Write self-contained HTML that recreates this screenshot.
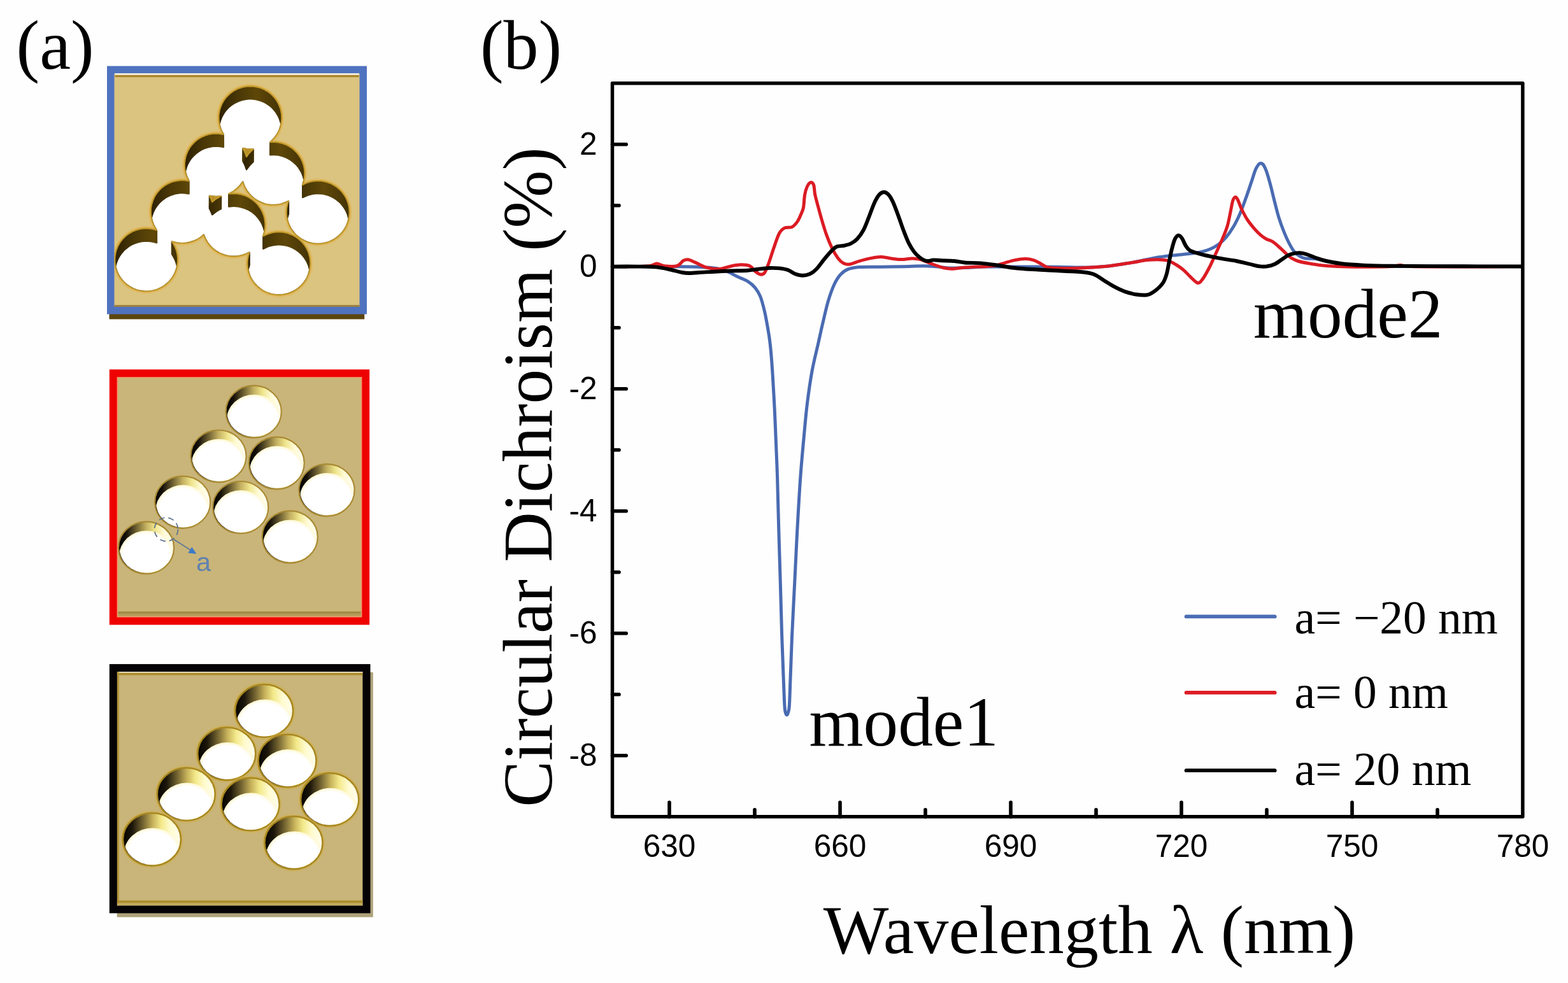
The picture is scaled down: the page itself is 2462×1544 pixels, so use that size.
<!DOCTYPE html>
<html lang="en"><head><meta charset="utf-8"><title>Circular Dichroism figure</title>
<style>html,body{margin:0;padding:0;background:#fefefe}svg{display:block}.se{font-family:"Liberation Serif","Times New Roman",serif;fill:#000}.sa{font-family:"Liberation Sans",Arial,sans-serif;fill:#000}</style></head><body>
<svg width="2462" height="1544" viewBox="0 0 2462 1544" role="img" aria-label="Hole-array schematics and circular dichroism spectra">
<defs>
<linearGradient id="g2" x1="0" y1="0" x2="1" y2="0"><stop offset="0" stop-color="#000"/><stop offset="0.14" stop-color="#15110a"/><stop offset="0.32" stop-color="#6d5f30"/><stop offset="0.5" stop-color="#c4b060"/><stop offset="0.66" stop-color="#efe58c"/><stop offset="0.82" stop-color="#fffbd8"/><stop offset="1" stop-color="#fffef4"/></linearGradient>
<linearGradient id="g3" x1="0" y1="0" x2="1" y2="0"><stop offset="0" stop-color="#050402"/><stop offset="0.16" stop-color="#1c160a"/><stop offset="0.36" stop-color="#7a6a34"/><stop offset="0.52" stop-color="#c9b45c"/><stop offset="0.66" stop-color="#f3e98a"/><stop offset="0.82" stop-color="#fffbd0"/><stop offset="1" stop-color="#fffef0"/></linearGradient>
<linearGradient id="g1" x1="0" y1="0" x2="1" y2="0"><stop offset="0" stop-color="#2c2004"/><stop offset="0.3" stop-color="#493706"/><stop offset="0.6" stop-color="#5e4708"/><stop offset="1" stop-color="#433206"/></linearGradient>
<radialGradient id="w" cx="0.5" cy="0.5" r="0.5"><stop offset="0" stop-color="#fff"/><stop offset="0.86" stop-color="#fff"/><stop offset="1" stop-color="#fff8d2"/></radialGradient>
</defs>
<rect width="2462" height="1544" fill="#fefefe"/>
<g id="panel-blue">
<rect x="171.5" y="488" width="400.7" height="13.4" fill="#5b450f"/>
<rect x="168" y="103.7" width="408" height="389.8" fill="#5073c0"/>
<rect x="179.5" y="115.2" width="385.0" height="366.8" fill="#dbc480"/>
<rect x="180.5" y="115.2" width="383.0" height="2.6" fill="#fbf7ea"/>
<rect x="180.5" y="117.8" width="383.0" height="3.4" fill="#a9862c"/>
<rect x="179.5" y="479.0" width="385.0" height="3" fill="#9c8140"/>
<clipPath id="cp1"><rect x="179.5" y="115.2" width="385.0" height="366.8"/></clipPath>
<g clip-path="url(#cp1)">
<path d="M442.2,180.0L441.1,173.7L440.3,170.5L438.6,166.0L435.8,160.2L433.1,156.1L431.2,153.5L426.7,148.8L424.3,146.6L420.4,143.7L414.8,140.5L408.8,138.0L402.6,136.4L397.8,135.6L394.5,135.4L388.0,135.6L383.2,136.4L380.1,137.1L375.5,138.6L372.5,139.8L366.8,142.9L361.5,146.6L356.8,151.1L353.6,154.8L351.7,157.4L349.2,161.6L347.8,164.5L346.6,167.5L345.1,172.1L344.1,176.8L343.6,180.0L343.4,183.3L343.5,188.1L344.1,193.0L344.7,196.1L345.5,199.3L347.2,203.8L349.2,208.2L350.9,211.1L345.8,210.1L339.3,209.7L334.4,209.9L328.1,211.0L321.9,212.9L316.0,215.5L311.8,218.0L306.7,222.0L303.2,225.4L301.0,227.8L298.1,231.7L295.6,235.9L293.6,240.3L292.4,243.3L291.5,246.4L290.5,251.1L289.9,256.0L289.8,260.8L290.2,265.7L290.8,268.9L291.9,273.6L293.0,276.6L294.9,281.1L296.6,284.2L289.4,283.2L284.6,283.1L281.3,283.3L278.1,283.8L273.4,284.8L268.8,286.3L265.8,287.5L261.4,289.7L258.7,291.4L254.8,294.3L252.4,296.5L250.1,298.8L246.9,302.5L245.0,305.1L242.5,309.3L239.9,315.2L238.0,321.4L237.1,326.1L236.8,329.4L236.8,335.8L237.7,342.3L238.4,345.4L239.9,350.0L242.5,355.9L246.0,361.5L242.5,360.4L237.8,359.4L232.9,358.8L229.7,358.7L226.5,358.8L221.6,359.4L216.9,360.4L212.3,361.9L207.8,363.8L203.6,366.2L200.9,368.0L197.1,371.0L193.6,374.4L190.4,378.1L188.5,380.7L186.0,384.9L184.6,387.8L182.8,392.3L181.5,397.0L180.9,400.1L180.3,405.0L180.2,408.2L180.3,411.4L180.9,416.3L181.9,421.0L182.8,424.1L184.6,428.6L186.0,431.5L188.5,435.7L190.4,438.3L192.5,440.8L195.9,444.3L199.6,447.5L202.2,449.4L206.4,451.9L209.3,453.3L212.3,454.5L216.9,456.0L221.6,457.0L224.8,457.5L228.1,457.7L232.9,457.6L237.8,457.0L240.9,456.4L244.1,455.6L248.6,453.9L251.6,452.6L255.8,450.2L259.8,447.5L263.5,444.3L266.9,440.8L269.9,437.0L272.6,432.9L274.8,428.6L277.1,422.6L278.2,417.9L279.1,411.4L279.2,406.6L278.8,401.7L277.9,397.0L276.6,392.3L274.8,387.8L272.6,383.4L269.9,379.3L276.5,381.1L283.0,382.0L289.4,382.0L295.9,381.1L302.1,379.5L308.1,377.0L313.7,373.8L316.3,371.9L320.0,368.8L321.9,373.8L324.1,378.1L327.7,383.5L330.9,387.2L334.4,390.6L339.5,394.6L343.7,397.1L349.6,399.7L354.2,401.2L358.9,402.2L363.8,402.8L370.2,402.8L375.1,402.2L381.4,400.8L385.9,399.1L391.6,396.4L390.1,401.0L389.1,405.7L388.5,410.6L388.4,415.4L388.8,420.3L389.7,425.0L390.5,428.2L392.2,432.7L394.2,437.1L396.7,441.3L399.6,445.2L401.8,447.6L405.3,451.0L409.1,454.0L411.8,455.8L416.0,458.2L420.5,460.1L423.5,461.2L429.8,462.6L434.7,463.2L437.9,463.3L441.1,463.2L446.0,462.6L449.1,462.0L453.8,460.7L458.3,458.9L461.2,457.5L464.0,455.8L468.0,453.1L471.7,449.9L474.0,447.6L476.2,445.2L479.1,441.3L481.6,437.1L483.6,432.7L485.3,428.2L486.1,425.0L487.0,420.3L487.4,415.4L487.3,410.6L486.7,405.7L486.1,402.6L484.8,397.9L483.0,393.4L480.8,389.1L478.1,385.0L476.2,382.4L474.0,380.0L470.5,376.6L466.7,373.6L464.0,371.8L459.8,369.4L456.8,368.1L452.3,366.4L447.6,365.3L444.4,364.7L439.5,364.3L434.7,364.4L429.8,365.0L426.7,365.6L422.0,366.9L417.5,368.7L413.3,370.8L415.2,364.6L416.3,358.3L416.5,351.8L415.8,345.3L414.4,339.0L412.1,333.0L409.0,327.3L405.3,322.0L400.8,317.3L395.8,313.2L390.3,309.7L384.4,307.1L378.2,305.2L371.9,304.1L365.4,303.9L359.2,304.5L365.4,301.2L369.4,298.5L371.9,296.4L376.5,291.8L378.6,289.3L381.2,285.5L383.3,291.4L385.3,295.8L387.8,300.0L391.8,305.1L396.4,309.7L400.2,312.7L405.7,316.2L410.1,318.2L414.6,319.9L420.9,321.3L425.8,321.9L432.2,321.9L437.1,321.3L443.4,319.9L447.9,318.2L453.0,315.8L451.4,320.7L450.4,325.4L449.8,330.3L449.7,335.1L450.1,340.0L451.0,344.7L452.9,350.9L454.8,355.4L457.2,359.6L459.9,363.6L463.1,367.3L466.6,370.7L470.4,373.7L475.9,377.2L480.3,379.2L484.8,380.9L488.0,381.7L492.7,382.6L496.0,382.9L500.8,383.0L505.7,382.6L508.9,382.0L513.6,380.9L516.6,379.8L522.5,377.2L525.3,375.5L529.3,372.8L531.8,370.7L535.3,367.3L537.5,364.9L540.4,361.0L542.9,356.8L544.3,353.9L546.6,347.9L547.4,344.7L548.3,340.0L548.7,335.1L548.7,331.9L548.3,327.0L547.7,323.8L546.6,319.1L545.5,316.1L544.3,313.1L542.1,308.8L539.4,304.7L537.5,302.1L534.2,298.5L531.8,296.3L529.3,294.2L525.3,291.5L521.1,289.1L518.1,287.8L513.6,286.1L508.9,285.0L505.7,284.4L500.8,284.0L496.0,284.1L491.1,284.7L488.0,285.3L483.3,286.6L478.8,288.4L475.2,290.2L476.8,285.3L478.1,279.0L478.5,272.5L478.1,266.0L476.8,259.7L474.7,253.6L471.9,247.8L468.3,242.4L465.1,238.7L460.4,234.2L455.1,230.5L449.4,227.4L443.4,225.1L437.1,223.7L430.6,223.0L424.2,223.2L427.9,219.9L432.2,215.0L435.8,209.7L438.6,203.8L440.3,199.3L441.7,193.0L442.4,186.5ZM333.2,317.2L331.3,312.2L328.9,307.6L332.8,308.3L337.7,308.7L342.5,308.6L347.1,308.1L343.7,309.7L339.5,312.2L336.9,314.1ZM386.2,243.3L383.7,237.3L381.3,233.0L384.8,233.7L389.7,234.3L392.9,234.4L397.7,234.2L395.2,236.4L391.8,239.9L389.7,242.4L387.1,246.2Z" fill="none" stroke="#e3b24a" stroke-width="7" stroke-opacity="0.55" stroke-linejoin="round"/>
<clipPath id="cu"><path d="M442.2,180.0L441.1,173.7L440.3,170.5L438.6,166.0L435.8,160.2L433.1,156.1L431.2,153.5L426.7,148.8L424.3,146.6L420.4,143.7L414.8,140.5L408.8,138.0L402.6,136.4L397.8,135.6L394.5,135.4L388.0,135.6L383.2,136.4L380.1,137.1L375.5,138.6L372.5,139.8L366.8,142.9L361.5,146.6L356.8,151.1L353.6,154.8L351.7,157.4L349.2,161.6L347.8,164.5L346.6,167.5L345.1,172.1L344.1,176.8L343.6,180.0L343.4,183.3L343.5,188.1L344.1,193.0L344.7,196.1L345.5,199.3L347.2,203.8L349.2,208.2L350.9,211.1L345.8,210.1L339.3,209.7L334.4,209.9L328.1,211.0L321.9,212.9L316.0,215.5L311.8,218.0L306.7,222.0L303.2,225.4L301.0,227.8L298.1,231.7L295.6,235.9L293.6,240.3L292.4,243.3L291.5,246.4L290.5,251.1L289.9,256.0L289.8,260.8L290.2,265.7L290.8,268.9L291.9,273.6L293.0,276.6L294.9,281.1L296.6,284.2L289.4,283.2L284.6,283.1L281.3,283.3L278.1,283.8L273.4,284.8L268.8,286.3L265.8,287.5L261.4,289.7L258.7,291.4L254.8,294.3L252.4,296.5L250.1,298.8L246.9,302.5L245.0,305.1L242.5,309.3L239.9,315.2L238.0,321.4L237.1,326.1L236.8,329.4L236.8,335.8L237.7,342.3L238.4,345.4L239.9,350.0L242.5,355.9L246.0,361.5L242.5,360.4L237.8,359.4L232.9,358.8L229.7,358.7L226.5,358.8L221.6,359.4L216.9,360.4L212.3,361.9L207.8,363.8L203.6,366.2L200.9,368.0L197.1,371.0L193.6,374.4L190.4,378.1L188.5,380.7L186.0,384.9L184.6,387.8L182.8,392.3L181.5,397.0L180.9,400.1L180.3,405.0L180.2,408.2L180.3,411.4L180.9,416.3L181.9,421.0L182.8,424.1L184.6,428.6L186.0,431.5L188.5,435.7L190.4,438.3L192.5,440.8L195.9,444.3L199.6,447.5L202.2,449.4L206.4,451.9L209.3,453.3L212.3,454.5L216.9,456.0L221.6,457.0L224.8,457.5L228.1,457.7L232.9,457.6L237.8,457.0L240.9,456.4L244.1,455.6L248.6,453.9L251.6,452.6L255.8,450.2L259.8,447.5L263.5,444.3L266.9,440.8L269.9,437.0L272.6,432.9L274.8,428.6L277.1,422.6L278.2,417.9L279.1,411.4L279.2,406.6L278.8,401.7L277.9,397.0L276.6,392.3L274.8,387.8L272.6,383.4L269.9,379.3L276.5,381.1L283.0,382.0L289.4,382.0L295.9,381.1L302.1,379.5L308.1,377.0L313.7,373.8L316.3,371.9L320.0,368.8L321.9,373.8L324.1,378.1L327.7,383.5L330.9,387.2L334.4,390.6L339.5,394.6L343.7,397.1L349.6,399.7L354.2,401.2L358.9,402.2L363.8,402.8L370.2,402.8L375.1,402.2L381.4,400.8L385.9,399.1L391.6,396.4L390.1,401.0L389.1,405.7L388.5,410.6L388.4,415.4L388.8,420.3L389.7,425.0L390.5,428.2L392.2,432.7L394.2,437.1L396.7,441.3L399.6,445.2L401.8,447.6L405.3,451.0L409.1,454.0L411.8,455.8L416.0,458.2L420.5,460.1L423.5,461.2L429.8,462.6L434.7,463.2L437.9,463.3L441.1,463.2L446.0,462.6L449.1,462.0L453.8,460.7L458.3,458.9L461.2,457.5L464.0,455.8L468.0,453.1L471.7,449.9L474.0,447.6L476.2,445.2L479.1,441.3L481.6,437.1L483.6,432.7L485.3,428.2L486.1,425.0L487.0,420.3L487.4,415.4L487.3,410.6L486.7,405.7L486.1,402.6L484.8,397.9L483.0,393.4L480.8,389.1L478.1,385.0L476.2,382.4L474.0,380.0L470.5,376.6L466.7,373.6L464.0,371.8L459.8,369.4L456.8,368.1L452.3,366.4L447.6,365.3L444.4,364.7L439.5,364.3L434.7,364.4L429.8,365.0L426.7,365.6L422.0,366.9L417.5,368.7L413.3,370.8L415.2,364.6L416.3,358.3L416.5,351.8L415.8,345.3L414.4,339.0L412.1,333.0L409.0,327.3L405.3,322.0L400.8,317.3L395.8,313.2L390.3,309.7L384.4,307.1L378.2,305.2L371.9,304.1L365.4,303.9L359.2,304.5L365.4,301.2L369.4,298.5L371.9,296.4L376.5,291.8L378.6,289.3L381.2,285.5L383.3,291.4L385.3,295.8L387.8,300.0L391.8,305.1L396.4,309.7L400.2,312.7L405.7,316.2L410.1,318.2L414.6,319.9L420.9,321.3L425.8,321.9L432.2,321.9L437.1,321.3L443.4,319.9L447.9,318.2L453.0,315.8L451.4,320.7L450.4,325.4L449.8,330.3L449.7,335.1L450.1,340.0L451.0,344.7L452.9,350.9L454.8,355.4L457.2,359.6L459.9,363.6L463.1,367.3L466.6,370.7L470.4,373.7L475.9,377.2L480.3,379.2L484.8,380.9L488.0,381.7L492.7,382.6L496.0,382.9L500.8,383.0L505.7,382.6L508.9,382.0L513.6,380.9L516.6,379.8L522.5,377.2L525.3,375.5L529.3,372.8L531.8,370.7L535.3,367.3L537.5,364.9L540.4,361.0L542.9,356.8L544.3,353.9L546.6,347.9L547.4,344.7L548.3,340.0L548.7,335.1L548.7,331.9L548.3,327.0L547.7,323.8L546.6,319.1L545.5,316.1L544.3,313.1L542.1,308.8L539.4,304.7L537.5,302.1L534.2,298.5L531.8,296.3L529.3,294.2L525.3,291.5L521.1,289.1L518.1,287.8L513.6,286.1L508.9,285.0L505.7,284.4L500.8,284.0L496.0,284.1L491.1,284.7L488.0,285.3L483.3,286.6L478.8,288.4L475.2,290.2L476.8,285.3L478.1,279.0L478.5,272.5L478.1,266.0L476.8,259.7L474.7,253.6L471.9,247.8L468.3,242.4L465.1,238.7L460.4,234.2L455.1,230.5L449.4,227.4L443.4,225.1L437.1,223.7L430.6,223.0L424.2,223.2L427.9,219.9L432.2,215.0L435.8,209.7L438.6,203.8L440.3,199.3L441.7,193.0L442.4,186.5ZM333.2,317.2L331.3,312.2L328.9,307.6L332.8,308.3L337.7,308.7L342.5,308.6L347.1,308.1L343.7,309.7L339.5,312.2L336.9,314.1ZM386.2,243.3L383.7,237.3L381.3,233.0L384.8,233.7L389.7,234.3L392.9,234.4L397.7,234.2L395.2,236.4L391.8,239.9L389.7,242.4L387.1,246.2Z" clip-rule="evenodd"/></clipPath>
<g clip-path="url(#cu)">
<circle cx="392.9" cy="184.9" r="50.0" fill="url(#g1)"/>
<circle cx="339.3" cy="259.2" r="50.0" fill="url(#g1)"/>
<circle cx="429" cy="272.5" r="50.0" fill="url(#g1)"/>
<circle cx="286.2" cy="332.6" r="50.0" fill="url(#g1)"/>
<circle cx="367" cy="353.4" r="50.0" fill="url(#g1)"/>
<circle cx="499.2" cy="333.5" r="50.0" fill="url(#g1)"/>
<circle cx="229.7" cy="408.2" r="50.0" fill="url(#g1)"/>
<circle cx="437.9" cy="413.8" r="50.0" fill="url(#g1)"/>
</g>
<path d="M333.2,317.2L331.3,312.2L328.9,307.6L332.8,308.3L337.7,308.7L342.5,308.6L347.1,308.1L343.7,309.7L339.5,312.2L336.9,314.1Z" fill="#b8902a"/>
<path d="M386.2,243.3L383.7,237.3L381.3,233.0L384.8,233.7L389.7,234.3L392.9,234.4L397.7,234.2L395.2,236.4L391.8,239.9L389.7,242.4L387.1,246.2Z" fill="#b8902a"/>
<path d="M442.2,180.0L441.1,173.7L440.3,170.5L438.6,166.0L435.8,160.2L433.1,156.1L431.2,153.5L426.7,148.8L424.3,146.6L420.4,143.7L414.8,140.5L408.8,138.0L402.6,136.4L397.8,135.6L394.5,135.4L388.0,135.6L383.2,136.4L380.1,137.1L375.5,138.6L372.5,139.8L366.8,142.9L361.5,146.6L356.8,151.1L353.6,154.8L351.7,157.4L349.2,161.6L347.8,164.5L346.6,167.5L345.1,172.1L344.1,176.8L343.6,180.0L343.4,183.3L343.5,188.1L344.1,193.0L344.7,196.1L345.5,199.3L347.2,203.8L349.2,208.2L350.9,211.1L345.8,210.1L339.3,209.7L334.4,209.9L328.1,211.0L321.9,212.9L316.0,215.5L311.8,218.0L306.7,222.0L303.2,225.4L301.0,227.8L298.1,231.7L295.6,235.9L293.6,240.3L292.4,243.3L291.5,246.4L290.5,251.1L289.9,256.0L289.8,260.8L290.2,265.7L290.8,268.9L291.9,273.6L293.0,276.6L294.9,281.1L296.6,284.2L289.4,283.2L284.6,283.1L281.3,283.3L278.1,283.8L273.4,284.8L268.8,286.3L265.8,287.5L261.4,289.7L258.7,291.4L254.8,294.3L252.4,296.5L250.1,298.8L246.9,302.5L245.0,305.1L242.5,309.3L239.9,315.2L238.0,321.4L237.1,326.1L236.8,329.4L236.8,335.8L237.7,342.3L238.4,345.4L239.9,350.0L242.5,355.9L246.0,361.5L242.5,360.4L237.8,359.4L232.9,358.8L229.7,358.7L226.5,358.8L221.6,359.4L216.9,360.4L212.3,361.9L207.8,363.8L203.6,366.2L200.9,368.0L197.1,371.0L193.6,374.4L190.4,378.1L188.5,380.7L186.0,384.9L184.6,387.8L182.8,392.3L181.5,397.0L180.9,400.1L180.3,405.0L180.2,408.2L180.3,411.4L180.9,416.3L181.9,421.0L182.8,424.1L184.6,428.6L186.0,431.5L188.5,435.7L190.4,438.3L192.5,440.8L195.9,444.3L199.6,447.5L202.2,449.4L206.4,451.9L209.3,453.3L212.3,454.5L216.9,456.0L221.6,457.0L224.8,457.5L228.1,457.7L232.9,457.6L237.8,457.0L240.9,456.4L244.1,455.6L248.6,453.9L251.6,452.6L255.8,450.2L259.8,447.5L263.5,444.3L266.9,440.8L269.9,437.0L272.6,432.9L274.8,428.6L277.1,422.6L278.2,417.9L279.1,411.4L279.2,406.6L278.8,401.7L277.9,397.0L276.6,392.3L274.8,387.8L272.6,383.4L269.9,379.3L276.5,381.1L283.0,382.0L289.4,382.0L295.9,381.1L302.1,379.5L308.1,377.0L313.7,373.8L316.3,371.9L320.0,368.8L321.9,373.8L324.1,378.1L327.7,383.5L330.9,387.2L334.4,390.6L339.5,394.6L343.7,397.1L349.6,399.7L354.2,401.2L358.9,402.2L363.8,402.8L370.2,402.8L375.1,402.2L381.4,400.8L385.9,399.1L391.6,396.4L390.1,401.0L389.1,405.7L388.5,410.6L388.4,415.4L388.8,420.3L389.7,425.0L390.5,428.2L392.2,432.7L394.2,437.1L396.7,441.3L399.6,445.2L401.8,447.6L405.3,451.0L409.1,454.0L411.8,455.8L416.0,458.2L420.5,460.1L423.5,461.2L429.8,462.6L434.7,463.2L437.9,463.3L441.1,463.2L446.0,462.6L449.1,462.0L453.8,460.7L458.3,458.9L461.2,457.5L464.0,455.8L468.0,453.1L471.7,449.9L474.0,447.6L476.2,445.2L479.1,441.3L481.6,437.1L483.6,432.7L485.3,428.2L486.1,425.0L487.0,420.3L487.4,415.4L487.3,410.6L486.7,405.7L486.1,402.6L484.8,397.9L483.0,393.4L480.8,389.1L478.1,385.0L476.2,382.4L474.0,380.0L470.5,376.6L466.7,373.6L464.0,371.8L459.8,369.4L456.8,368.1L452.3,366.4L447.6,365.3L444.4,364.7L439.5,364.3L434.7,364.4L429.8,365.0L426.7,365.6L422.0,366.9L417.5,368.7L413.3,370.8L415.2,364.6L416.3,358.3L416.5,351.8L415.8,345.3L414.4,339.0L412.1,333.0L409.0,327.3L405.3,322.0L400.8,317.3L395.8,313.2L390.3,309.7L384.4,307.1L378.2,305.2L371.9,304.1L365.4,303.9L359.2,304.5L365.4,301.2L369.4,298.5L371.9,296.4L376.5,291.8L378.6,289.3L381.2,285.5L383.3,291.4L385.3,295.8L387.8,300.0L391.8,305.1L396.4,309.7L400.2,312.7L405.7,316.2L410.1,318.2L414.6,319.9L420.9,321.3L425.8,321.9L432.2,321.9L437.1,321.3L443.4,319.9L447.9,318.2L453.0,315.8L451.4,320.7L450.4,325.4L449.8,330.3L449.7,335.1L450.1,340.0L451.0,344.7L452.9,350.9L454.8,355.4L457.2,359.6L459.9,363.6L463.1,367.3L466.6,370.7L470.4,373.7L475.9,377.2L480.3,379.2L484.8,380.9L488.0,381.7L492.7,382.6L496.0,382.9L500.8,383.0L505.7,382.6L508.9,382.0L513.6,380.9L516.6,379.8L522.5,377.2L525.3,375.5L529.3,372.8L531.8,370.7L535.3,367.3L537.5,364.9L540.4,361.0L542.9,356.8L544.3,353.9L546.6,347.9L547.4,344.7L548.3,340.0L548.7,335.1L548.7,331.9L548.3,327.0L547.7,323.8L546.6,319.1L545.5,316.1L544.3,313.1L542.1,308.8L539.4,304.7L537.5,302.1L534.2,298.5L531.8,296.3L529.3,294.2L525.3,291.5L521.1,289.1L518.1,287.8L513.6,286.1L508.9,285.0L505.7,284.4L500.8,284.0L496.0,284.1L491.1,284.7L488.0,285.3L483.3,286.6L478.8,288.4L475.2,290.2L476.8,285.3L478.1,279.0L478.5,272.5L478.1,266.0L476.8,259.7L474.7,253.6L471.9,247.8L468.3,242.4L465.1,238.7L460.4,234.2L455.1,230.5L449.4,227.4L443.4,225.1L437.1,223.7L430.6,223.0L424.2,223.2L427.9,219.9L432.2,215.0L435.8,209.7L438.6,203.8L440.3,199.3L441.7,193.0L442.4,186.5ZM333.2,317.2L331.3,312.2L328.9,307.6L332.8,308.3L337.7,308.7L342.5,308.6L347.1,308.1L343.7,309.7L339.5,312.2L336.9,314.1ZM386.2,243.3L383.7,237.3L381.3,233.0L384.8,233.7L389.7,234.3L392.9,234.4L397.7,234.2L395.2,236.4L391.8,239.9L389.7,242.4L387.1,246.2Z" fill="none" stroke="#c39a2a" stroke-width="2.2" stroke-linejoin="round"/>
<path d="M352.0,210.6L352.1,231.1L351.6,232.0L350.7,232.3L347.2,231.5L342.5,231.0L337.7,230.9L334.6,231.1L328.3,232.2L325.3,233.0L320.8,234.6L316.5,236.6L313.8,238.2L309.9,240.9L307.5,242.9L304.0,246.2L302.0,248.6L300.0,251.1L297.5,255.1L295.3,259.3L294.1,262.2L292.1,269.2L294.1,276.2L297.8,284.0L297.8,304.3L297.5,305.0L296.6,305.4L289.4,304.4L284.6,304.3L281.5,304.5L275.2,305.6L272.2,306.4L267.7,308.0L263.4,310.0L260.7,311.6L255.6,315.3L252.0,318.4L249.9,320.8L247.9,323.2L245.2,327.1L243.6,329.8L241.6,334.1L240.0,338.6L239.0,342.6L240.5,348.1L242.2,352.5L244.4,356.7L247.1,361.2L247.2,381.5L246.9,382.3L245.8,382.6L242.2,381.5L237.6,380.5L232.9,380.0L229.7,379.9L226.5,380.0L221.8,380.5L218.7,381.2L214.2,382.5L209.8,384.2L206.9,385.6L202.9,388.0L199.1,390.9L195.5,394.0L193.4,396.4L191.4,398.8L188.7,402.7L187.1,405.4L185.1,409.7L183.5,414.2L182.7,417.2L182.5,418.2L184.0,423.7L185.1,426.7L187.1,431.0L189.5,435.0L191.4,437.6L194.4,441.2L196.7,443.5L200.3,446.5L204.2,449.2L209.8,452.2L214.2,453.9L217.2,454.9L223.4,456.1L228.1,456.5L231.3,456.5L237.6,455.9L240.7,455.2L245.2,453.9L251.1,451.5L253.8,450.0L257.8,447.5L261.5,444.5L265.0,441.2L268.0,437.6L269.9,435.0L272.3,431.0L274.3,426.7L275.9,422.2L276.9,418.2L275.4,412.7L273.7,408.3L271.5,404.1L268.8,399.6L268.7,379.3L269.0,378.6L269.4,378.3L270.1,378.2L276.8,380.0L279.9,380.5L284.6,380.9L290.9,380.7L297.2,379.6L303.2,377.8L309.0,375.2L314.3,371.9L319.2,367.8L319.9,367.6L320.6,367.8L321.0,368.2L323.7,374.8L326.8,380.2L329.7,384.0L332.8,387.6L336.4,390.7L340.2,393.6L345.6,396.7L350.0,398.6L354.5,400.1L359.1,401.1L363.8,401.6L370.2,401.6L374.9,401.1L379.5,400.1L385.5,398.0L391.2,395.2L391.9,395.2L392.4,395.5L392.8,396.3L392.8,416.4L390.7,423.8L392.7,430.8L393.9,433.7L396.1,437.9L398.6,441.9L401.6,445.6L404.9,449.1L407.3,451.1L411.1,454.0L415.1,456.4L419.4,458.4L422.4,459.5L425.4,460.5L430.0,461.5L434.7,462.0L437.9,462.1L444.2,461.7L448.9,460.8L451.9,460.0L457.8,457.8L462.0,455.6L464.7,454.0L467.3,452.1L470.9,449.1L474.2,445.6L476.2,443.2L479.7,437.9L481.2,435.2L483.1,430.8L485.1,423.8L483.1,416.8L480.5,411.0L477.2,405.7L473.2,400.8L470.9,398.5L467.3,395.5L463.4,392.8L459.3,390.5L454.9,388.6L451.9,387.6L448.9,386.8L444.2,385.9L439.5,385.5L436.3,385.5L431.6,385.9L428.5,386.4L423.9,387.6L420.9,388.6L413.7,392.0L412.7,391.9L412.1,390.9L412.1,370.8L414.2,363.4L412.7,357.9L410.3,352.0L408.0,347.9L404.3,342.8L400.0,338.1L395.1,334.1L389.8,330.8L384.0,328.2L378.0,326.4L373.3,325.5L367.0,325.1L359.1,325.7L358.1,325.1L358.0,324.6L358.1,304.0L358.6,303.5L362.1,301.8L366.1,299.4L371.1,295.5L375.6,291.0L377.6,288.6L380.3,284.7L380.9,284.3L381.7,284.4L382.2,284.8L384.4,291.0L386.4,295.3L388.8,299.3L392.7,304.3L397.2,308.8L400.9,311.8L406.2,315.1L410.5,317.1L416.5,319.2L421.1,320.2L425.8,320.7L432.2,320.7L436.9,320.2L441.5,319.2L447.5,317.1L452.6,314.7L453.2,314.6L453.8,314.9L454.2,315.8L454.2,335.9L452.0,343.5L453.0,347.5L454.6,352.0L456.6,356.3L459.0,360.3L461.9,364.1L465.0,367.7L467.4,369.8L471.1,372.8L475.1,375.3L479.3,377.5L483.7,379.2L488.2,380.5L492.9,381.4L496.0,381.7L500.8,381.8L505.5,381.4L510.2,380.5L513.2,379.7L516.2,378.7L520.6,376.8L524.7,374.5L528.6,371.8L531.0,369.8L534.5,366.5L537.5,362.9L540.2,359.0L542.5,354.9L543.8,352.0L545.4,347.5L546.4,343.5L544.4,336.5L541.8,330.7L538.5,325.4L535.5,321.7L533.4,319.3L531.0,317.2L527.3,314.2L524.7,312.5L520.6,310.2L516.2,308.3L513.2,307.3L508.6,306.1L505.5,305.6L499.2,305.2L496.0,305.3L491.3,305.8L485.2,307.3L480.7,308.9L475.6,311.3L474.6,311.2L474.0,310.2L474.0,290.1L476.2,282.5L474.7,277.0L473.0,272.6L470.8,268.4L467.3,263.1L464.3,259.5L459.6,255.2L454.5,251.5L448.9,248.5L443.0,246.3L436.9,244.8L430.6,244.2L424.1,244.4L423.2,243.9L423.0,243.2L423.1,222.9L429.2,216.7L431.2,214.3L433.9,210.4L435.5,207.7L437.5,203.4L439.1,198.9L440.1,194.9L439.1,190.9L437.5,186.4L436.2,183.5L433.9,179.4L432.2,176.8L429.2,173.1L425.9,169.6L422.3,166.6L417.0,163.1L414.3,161.6L409.9,159.7L406.9,158.7L402.3,157.5L397.6,156.8L394.5,156.6L391.3,156.6L386.6,157.0L380.4,158.2L375.9,159.7L373.0,160.9L368.8,163.1L366.1,164.7L363.5,166.6L359.9,169.6L356.6,173.1L353.6,176.8L351.9,179.4L349.6,183.5L347.7,187.9L346.7,190.9L345.7,194.9L345.9,195.9L347.2,200.4L348.3,203.4L350.3,207.7ZM398.5,233.3L398.9,234.2L398.8,254.5L392.7,260.7L387.9,267.0L387.3,267.4L386.7,267.4L386.0,266.8L383.3,259.3L380.1,253.2L380.2,232.6L380.6,232.1L381.4,231.8L388.2,233.0L392.9,233.2L397.7,233.0ZM347.7,307.1L348.3,308.0L348.2,328.6L347.7,329.1L344.2,330.8L340.2,333.2L333.9,338.2L332.7,338.3L332.1,337.7L330.2,332.7L327.7,327.8L327.8,307.1L328.3,306.6L328.9,306.4L333.0,307.1L337.7,307.5L342.5,307.4L347.1,306.9Z" fill="#fff" fill-rule="evenodd"/>
</g>
</g>
<g id="panel-red">
<rect x="171.8" y="580.3" width="408.40000000000003" height="401.1" fill="#ee0202"/>
<rect x="183.60000000000002" y="592.0999999999999" width="384.8" height="377.5" fill="#f09a6c"/>
<rect x="185.40000000000003" y="593.5999999999999" width="381.2" height="374.5" fill="#c9b579"/>
<rect x="185.40000000000003" y="960.6" width="381.2" height="3.2" fill="#a08740"/>
<rect x="185.40000000000003" y="963.8" width="381.2" height="3.8" fill="#b79a5c"/>
<ellipse cx="398.2" cy="646.7" rx="43.6" ry="41.0" fill="url(#g2)" stroke="#a98a34" stroke-width="2.2"/>
<clipPath id="c2_0"><ellipse cx="398.2" cy="646.7" rx="42.0" ry="39.4"/></clipPath>
<ellipse cx="398.8" cy="660.3000000000001" rx="43.2" ry="40.6" fill="url(#w)" clip-path="url(#c2_0)"/>
<ellipse cx="343" cy="716.5" rx="43.6" ry="41.0" fill="url(#g2)" stroke="#a98a34" stroke-width="2.2"/>
<clipPath id="c2_1"><ellipse cx="343" cy="716.5" rx="42.0" ry="39.4"/></clipPath>
<ellipse cx="343.6" cy="730.1" rx="43.2" ry="40.6" fill="url(#w)" clip-path="url(#c2_1)"/>
<ellipse cx="434.2" cy="727.4" rx="43.6" ry="41.0" fill="url(#g2)" stroke="#a98a34" stroke-width="2.2"/>
<clipPath id="c2_2"><ellipse cx="434.2" cy="727.4" rx="42.0" ry="39.4"/></clipPath>
<ellipse cx="434.8" cy="741.0" rx="43.2" ry="40.6" fill="url(#w)" clip-path="url(#c2_2)"/>
<ellipse cx="286.7" cy="788.8" rx="43.6" ry="41.0" fill="url(#g2)" stroke="#a98a34" stroke-width="2.2"/>
<clipPath id="c2_3"><ellipse cx="286.7" cy="788.8" rx="42.0" ry="39.4"/></clipPath>
<ellipse cx="287.3" cy="802.4" rx="43.2" ry="40.6" fill="url(#w)" clip-path="url(#c2_3)"/>
<ellipse cx="377.7" cy="797" rx="43.6" ry="41.0" fill="url(#g2)" stroke="#a98a34" stroke-width="2.2"/>
<clipPath id="c2_4"><ellipse cx="377.7" cy="797" rx="42.0" ry="39.4"/></clipPath>
<ellipse cx="378.3" cy="810.6" rx="43.2" ry="40.6" fill="url(#w)" clip-path="url(#c2_4)"/>
<ellipse cx="513" cy="769.9" rx="43.6" ry="41.0" fill="url(#g2)" stroke="#a98a34" stroke-width="2.2"/>
<clipPath id="c2_5"><ellipse cx="513" cy="769.9" rx="42.0" ry="39.4"/></clipPath>
<ellipse cx="513.6" cy="783.5" rx="43.2" ry="40.6" fill="url(#w)" clip-path="url(#c2_5)"/>
<ellipse cx="229.5" cy="860.4" rx="43.6" ry="41.0" fill="url(#g2)" stroke="#a98a34" stroke-width="2.2"/>
<clipPath id="c2_6"><ellipse cx="229.5" cy="860.4" rx="42.0" ry="39.4"/></clipPath>
<ellipse cx="230.1" cy="874.0" rx="43.2" ry="40.6" fill="url(#w)" clip-path="url(#c2_6)"/>
<ellipse cx="455.2" cy="843.4" rx="43.6" ry="41.0" fill="url(#g2)" stroke="#a98a34" stroke-width="2.2"/>
<clipPath id="c2_7"><ellipse cx="455.2" cy="843.4" rx="42.0" ry="39.4"/></clipPath>
<ellipse cx="455.8" cy="857.0" rx="43.2" ry="40.6" fill="url(#w)" clip-path="url(#c2_7)"/>
<circle cx="261" cy="831.6" r="18.5" fill="none" stroke="#5b6f8c" stroke-width="1.7" stroke-dasharray="9 6"/>
<line x1="272.5" y1="847" x2="300" y2="864.5" stroke="#5f7896" stroke-width="1.8"/>
<polygon points="308.5,870 295.3,868.6 301.3,859.2" fill="#3c79c6"/>
<text class="sa" x="308" y="896.5" font-size="41.5" style="fill:#5f82b0">a</text>
</g>
<g id="panel-black">
<rect x="183.6" y="1056" width="402.2" height="384.6" fill="#aea27a"/>
<rect x="171.8" y="1043.1" width="409.7" height="391.3000000000002" fill="#050305"/>
<rect x="183.9" y="1055.1999999999998" width="385.5" height="367.1000000000002" fill="#c9b579"/>
<rect x="183.9" y="1055.1999999999998" width="385.5" height="1.6" fill="#f4efd8"/>
<rect x="183.9" y="1056.7999999999997" width="385.5" height="3.6" fill="#ad8c2c"/>
<rect x="183.9" y="1055.1999999999998" width="3" height="367.1000000000002" fill="#b2943a"/>
<rect x="183.9" y="1414.4" width="385.5" height="4" fill="#ad8c2c"/>
<rect x="183.9" y="1418.4" width="385.5" height="4" fill="#c2a95e"/>
<ellipse cx="414.6" cy="1116.6" rx="47.0" ry="43.0" fill="none" stroke="#cfae48" stroke-width="4" stroke-opacity="0.5"/>
<ellipse cx="414.6" cy="1116.6" rx="45.5" ry="41.5" fill="url(#g3)" stroke="#a8871f" stroke-width="2.5"/>
<clipPath id="c3_0"><ellipse cx="414.6" cy="1116.6" rx="43.9" ry="39.9"/></clipPath>
<ellipse cx="415.8" cy="1139.8" rx="45.2" ry="41.2" fill="url(#w)" clip-path="url(#c3_0)"/>
<ellipse cx="355.8" cy="1184" rx="47.0" ry="43.0" fill="none" stroke="#cfae48" stroke-width="4" stroke-opacity="0.5"/>
<ellipse cx="355.8" cy="1184" rx="45.5" ry="41.5" fill="url(#g3)" stroke="#a8871f" stroke-width="2.5"/>
<clipPath id="c3_1"><ellipse cx="355.8" cy="1184" rx="43.9" ry="39.9"/></clipPath>
<ellipse cx="357.0" cy="1207.2" rx="45.2" ry="41.2" fill="url(#w)" clip-path="url(#c3_1)"/>
<ellipse cx="451" cy="1195" rx="47.0" ry="43.0" fill="none" stroke="#cfae48" stroke-width="4" stroke-opacity="0.5"/>
<ellipse cx="451" cy="1195" rx="45.5" ry="41.5" fill="url(#g3)" stroke="#a8871f" stroke-width="2.5"/>
<clipPath id="c3_2"><ellipse cx="451" cy="1195" rx="43.9" ry="39.9"/></clipPath>
<ellipse cx="452.2" cy="1218.2" rx="45.2" ry="41.2" fill="url(#w)" clip-path="url(#c3_2)"/>
<ellipse cx="292.3" cy="1247.6" rx="47.0" ry="43.0" fill="none" stroke="#cfae48" stroke-width="4" stroke-opacity="0.5"/>
<ellipse cx="292.3" cy="1247.6" rx="45.5" ry="41.5" fill="url(#g3)" stroke="#a8871f" stroke-width="2.5"/>
<clipPath id="c3_3"><ellipse cx="292.3" cy="1247.6" rx="43.9" ry="39.9"/></clipPath>
<ellipse cx="293.5" cy="1270.8" rx="45.2" ry="41.2" fill="url(#w)" clip-path="url(#c3_3)"/>
<ellipse cx="393.1" cy="1263.3" rx="47.0" ry="43.0" fill="none" stroke="#cfae48" stroke-width="4" stroke-opacity="0.5"/>
<ellipse cx="393.1" cy="1263.3" rx="45.5" ry="41.5" fill="url(#g3)" stroke="#a8871f" stroke-width="2.5"/>
<clipPath id="c3_4"><ellipse cx="393.1" cy="1263.3" rx="43.9" ry="39.9"/></clipPath>
<ellipse cx="394.3" cy="1286.5" rx="45.2" ry="41.2" fill="url(#w)" clip-path="url(#c3_4)"/>
<ellipse cx="517.7" cy="1255.8" rx="47.0" ry="43.0" fill="none" stroke="#cfae48" stroke-width="4" stroke-opacity="0.5"/>
<ellipse cx="517.7" cy="1255.8" rx="45.5" ry="41.5" fill="url(#g3)" stroke="#a8871f" stroke-width="2.5"/>
<clipPath id="c3_5"><ellipse cx="517.7" cy="1255.8" rx="43.9" ry="39.9"/></clipPath>
<ellipse cx="518.9000000000001" cy="1279.0" rx="45.2" ry="41.2" fill="url(#w)" clip-path="url(#c3_5)"/>
<ellipse cx="238.5" cy="1318.4" rx="47.0" ry="43.0" fill="none" stroke="#cfae48" stroke-width="4" stroke-opacity="0.5"/>
<ellipse cx="238.5" cy="1318.4" rx="45.5" ry="41.5" fill="url(#g3)" stroke="#a8871f" stroke-width="2.5"/>
<clipPath id="c3_6"><ellipse cx="238.5" cy="1318.4" rx="43.9" ry="39.9"/></clipPath>
<ellipse cx="239.7" cy="1341.6000000000001" rx="45.2" ry="41.2" fill="url(#w)" clip-path="url(#c3_6)"/>
<ellipse cx="461" cy="1323.7" rx="47.0" ry="43.0" fill="none" stroke="#cfae48" stroke-width="4" stroke-opacity="0.5"/>
<ellipse cx="461" cy="1323.7" rx="45.5" ry="41.5" fill="url(#g3)" stroke="#a8871f" stroke-width="2.5"/>
<clipPath id="c3_7"><ellipse cx="461" cy="1323.7" rx="43.9" ry="39.9"/></clipPath>
<ellipse cx="462.2" cy="1346.9" rx="45.2" ry="41.2" fill="url(#w)" clip-path="url(#c3_7)"/>
</g>
<g id="chart">
<path d="M964.0,418.6C981.0,418.6 1043.3,418.7 1066.0,418.8C1088.7,418.9 1090.2,419.1 1100.0,419.5C1109.8,419.9 1118.2,420.4 1125.0,421.5C1131.8,422.6 1135.4,423.9 1140.8,426.0C1146.2,428.1 1151.9,431.7 1157.4,434.3C1162.9,436.9 1169.3,438.9 1174.0,441.8C1178.7,444.7 1182.3,447.8 1185.6,451.8C1188.9,455.8 1191.4,459.7 1193.9,465.9C1196.4,472.1 1198.6,481.1 1200.5,489.1C1202.4,497.1 1203.8,505.5 1205.3,514.0C1206.8,522.5 1208.0,528.5 1209.2,540.0C1210.5,551.5 1211.7,566.2 1212.8,583.0C1213.9,599.8 1215.1,621.6 1216.1,641.0C1217.1,660.4 1217.8,680.9 1218.6,699.1C1219.3,717.3 1219.9,727.7 1220.6,750.0C1221.3,772.3 1222.0,805.4 1222.8,833.0C1223.6,860.6 1224.5,888.1 1225.3,915.9C1226.1,943.7 1226.9,974.9 1227.7,1000.0C1228.5,1025.1 1229.5,1048.4 1230.2,1066.4C1230.9,1084.4 1231.4,1099.0 1231.9,1107.8C1232.4,1116.6 1232.8,1117.0 1233.4,1119.5C1234.0,1122.0 1234.6,1123.0 1235.3,1123.0C1236.0,1123.0 1236.7,1122.0 1237.4,1119.5C1238.1,1117.0 1238.8,1116.6 1239.4,1107.8C1240.0,1099.0 1240.3,1084.4 1241.0,1066.4C1241.7,1048.4 1242.4,1025.1 1243.5,1000.0C1244.6,974.9 1246.3,943.7 1247.7,915.9C1249.1,888.1 1250.3,860.6 1251.8,833.0C1253.3,805.4 1255.0,775.1 1256.8,750.0C1258.6,724.9 1260.8,702.0 1262.6,682.5C1264.4,663.0 1265.5,649.3 1267.6,632.7C1269.7,616.1 1272.2,598.5 1275.0,583.0C1277.8,567.5 1281.7,552.9 1284.6,540.0C1287.5,527.1 1289.6,517.0 1292.3,505.7C1295.0,494.4 1297.5,482.4 1300.5,472.5C1303.5,462.6 1306.8,453.4 1310.0,446.5C1313.2,439.6 1316.3,435.0 1320.0,431.0C1323.7,427.0 1327.1,424.6 1332.0,422.7C1336.9,420.8 1340.9,420.1 1349.3,419.5C1357.7,418.9 1371.4,419.3 1382.5,419.2C1393.6,419.1 1404.5,419.0 1415.7,418.8C1427.0,418.6 1441.0,417.8 1450.0,417.8C1459.0,417.8 1463.3,418.3 1470.0,418.8C1476.7,419.3 1482.5,420.7 1490.0,421.0C1497.5,421.3 1505.3,420.8 1515.0,420.5C1524.7,420.2 1535.0,419.2 1548.0,419.0C1561.0,418.8 1574.3,418.9 1593.0,419.0C1611.7,419.1 1640.7,419.1 1660.0,419.3C1679.3,419.5 1695.2,420.3 1709.0,420.0C1722.8,419.7 1731.4,418.9 1742.5,417.7C1753.6,416.5 1766.1,414.2 1775.7,412.6C1785.3,411.0 1793.1,409.2 1800.0,407.8C1806.9,406.4 1810.2,405.4 1817.2,404.3C1824.2,403.2 1833.7,402.1 1842.0,401.1C1850.3,400.2 1860.0,399.4 1866.9,398.6C1873.8,397.8 1878.0,397.3 1883.5,396.1C1889.0,394.9 1895.1,393.3 1900.1,391.2C1905.1,389.1 1909.2,386.8 1913.4,383.7C1917.6,380.6 1921.1,377.5 1925.0,372.9C1928.9,368.3 1933.0,362.4 1936.6,356.3C1940.2,350.2 1943.4,343.6 1946.6,336.4C1949.8,329.2 1952.5,321.5 1955.5,313.2C1958.5,304.9 1962.1,294.2 1964.7,286.4C1967.3,278.6 1969.4,271.2 1971.3,266.5C1973.2,261.8 1974.9,259.9 1976.3,258.2C1977.7,256.5 1978.3,256.4 1979.6,256.5C1980.8,256.6 1982.3,256.8 1983.8,259.0C1985.3,261.2 1987.0,264.7 1988.8,269.8C1990.6,274.9 1992.5,281.9 1994.6,289.7C1996.7,297.4 1999.0,307.7 2001.2,316.3C2003.4,324.9 2005.3,333.2 2007.8,341.2C2010.3,349.2 2013.3,357.5 2016.1,364.4C2018.9,371.3 2021.6,377.4 2024.4,382.6C2027.2,387.9 2029.9,392.6 2032.7,395.9C2035.5,399.2 2038.2,400.8 2041.0,402.5C2043.8,404.2 2045.2,405.2 2049.3,405.9C2053.5,406.6 2060.4,405.8 2065.9,406.5C2071.4,407.2 2075.6,409.1 2082.5,410.4C2089.4,411.7 2097.7,413.3 2107.4,414.4C2117.1,415.5 2128.2,416.2 2140.6,416.8C2153.0,417.4 2140.6,417.6 2182.0,417.9C2223.4,418.2 2354.5,418.4 2389.0,418.5" fill="none" stroke="#4a6bb2" stroke-width="5" stroke-linejoin="round" stroke-linecap="round"/>
<path d="M964.0,418.6C970.0,418.6 990.2,418.8 999.8,418.6C1009.3,418.4 1016.0,418.1 1021.3,417.4C1026.5,416.6 1027.7,414.1 1031.3,414.1C1034.9,414.2 1037.7,417.1 1042.9,417.7C1048.2,418.3 1057.8,419.1 1062.8,417.7C1067.8,416.3 1069.9,411.1 1072.8,409.5C1075.7,407.9 1077.2,407.4 1080.2,407.8C1083.2,408.2 1086.2,409.8 1091.0,411.9C1095.8,414.0 1102.9,418.4 1109.3,420.2C1115.7,421.9 1122.6,422.8 1129.2,422.4C1135.8,422.0 1143.3,418.8 1149.1,417.7C1154.9,416.6 1159.3,415.8 1164.0,415.8C1168.7,415.8 1173.7,416.0 1177.3,417.7C1180.9,419.4 1182.8,423.8 1185.6,426.0C1188.4,428.2 1191.4,430.6 1193.9,431.0C1196.4,431.4 1198.3,431.5 1200.5,428.5C1202.7,425.5 1204.7,419.6 1207.2,412.8C1209.7,406.0 1212.8,395.6 1215.5,387.9C1218.2,380.1 1221.0,371.3 1223.7,366.3C1226.5,361.3 1228.7,359.6 1232.0,358.0C1235.3,356.4 1240.4,358.0 1243.7,356.4C1247.0,354.8 1249.7,351.3 1252.0,348.1C1254.3,344.9 1255.9,340.7 1257.5,337.0C1259.1,333.3 1260.5,331.2 1261.5,326.0C1262.5,320.8 1262.6,311.4 1263.6,306.0C1264.5,300.6 1265.7,296.7 1267.2,293.5C1268.7,290.3 1270.9,287.1 1272.6,286.6C1274.3,286.1 1276.4,287.4 1277.6,290.5C1278.8,293.6 1278.6,300.1 1279.6,305.0C1280.5,309.9 1281.6,313.5 1283.3,319.8C1285.0,326.1 1287.2,334.6 1289.6,342.9C1292.0,351.2 1295.1,361.7 1297.9,369.4C1300.7,377.1 1303.2,383.2 1306.2,389.3C1309.2,395.4 1313.1,401.9 1316.1,405.9C1319.1,409.9 1321.4,411.9 1324.4,413.4C1327.5,414.9 1330.2,415.6 1334.4,415.0C1338.6,414.4 1344.0,411.6 1349.3,410.1C1354.5,408.6 1360.4,407.0 1365.9,405.9C1371.4,404.8 1377.0,403.4 1382.5,403.4C1388.0,403.4 1393.6,405.2 1399.1,405.9C1404.6,406.6 1410.2,407.6 1415.7,407.6C1421.2,407.6 1427.3,405.9 1432.3,405.9C1437.3,405.9 1440.5,406.2 1445.5,407.6C1450.5,409.0 1456.0,412.0 1462.1,414.2C1468.2,416.4 1476.5,419.5 1482.0,420.8C1487.5,422.1 1489.8,422.3 1495.3,422.2C1500.8,422.1 1506.3,420.6 1515.2,420.0C1524.1,419.4 1540.1,418.9 1548.4,418.4C1556.7,417.8 1560.1,417.6 1565.0,416.7C1569.9,415.8 1573.3,414.1 1578.0,412.8C1582.7,411.5 1587.9,409.7 1593.2,408.6C1598.5,407.5 1604.8,406.4 1609.8,406.4C1614.8,406.4 1618.8,407.3 1623.0,408.6C1627.2,409.9 1630.8,412.5 1634.7,414.4C1638.6,416.3 1639.4,419.0 1646.3,420.2C1653.2,421.4 1665.6,421.4 1676.1,421.4C1686.6,421.4 1698.2,420.8 1709.3,420.2C1720.4,419.6 1731.4,418.9 1742.5,417.7C1753.6,416.4 1766.0,414.2 1775.7,412.7C1785.4,411.2 1793.7,409.4 1800.6,408.6C1807.5,407.8 1811.7,407.6 1817.2,407.7C1822.7,407.8 1828.7,408.0 1833.7,409.4C1838.7,410.8 1842.8,413.5 1847.0,416.0C1851.2,418.5 1855.0,421.2 1858.6,424.3C1862.2,427.4 1865.0,431.0 1868.6,434.3C1872.2,437.6 1877.0,443.4 1880.2,444.2C1883.4,445.0 1884.7,443.2 1887.7,439.3C1890.7,435.4 1895.0,427.6 1898.4,421.0C1901.9,414.4 1905.0,407.0 1908.4,399.5C1911.8,392.0 1915.8,383.5 1919.0,376.0C1922.2,368.5 1925.1,362.0 1927.3,354.5C1929.5,347.0 1931.0,337.6 1932.4,331.0C1933.8,324.4 1934.6,318.6 1935.8,315.0C1937.0,311.4 1938.3,309.9 1939.5,309.6C1940.7,309.3 1941.4,309.9 1943.1,313.0C1944.8,316.1 1946.9,323.2 1949.5,328.5C1952.1,333.8 1955.1,339.9 1958.5,345.0C1961.9,350.1 1966.2,355.3 1969.7,359.4C1973.2,363.5 1976.6,366.8 1979.6,369.4C1982.6,372.0 1984.9,373.5 1987.9,375.2C1991.0,376.9 1994.9,377.5 1997.9,379.3C2001.0,381.1 2003.2,383.4 2006.2,386.0C2009.2,388.6 2012.8,392.1 2016.1,395.1C2019.4,398.1 2022.5,401.7 2026.1,404.2C2029.7,406.7 2032.5,408.3 2037.7,410.0C2043.0,411.7 2050.1,412.9 2057.6,414.2C2065.1,415.4 2072.8,416.7 2082.5,417.5C2092.2,418.3 2099.4,418.9 2115.7,419.1C2131.9,419.3 2166.2,419.2 2180.0,418.8C2193.8,418.4 2192.8,416.6 2198.6,416.5C2204.4,416.4 2198.1,418.1 2215.0,418.5C2231.9,418.9 2271.0,419.1 2300.0,419.1C2329.0,419.1 2374.2,418.6 2389.0,418.5" fill="none" stroke="#db1b23" stroke-width="5" stroke-linejoin="round" stroke-linecap="round"/>
<path d="M964.0,418.6C970.0,418.6 988.9,418.5 999.8,418.6C1010.7,418.7 1020.7,418.6 1029.6,419.4C1038.4,420.2 1046.2,422.1 1052.9,423.5C1059.6,424.9 1064.5,426.8 1069.5,427.7C1074.5,428.6 1076.4,429.1 1082.7,429.0C1089.0,428.9 1097.9,427.9 1107.6,427.4C1117.3,426.8 1129.7,426.1 1140.8,425.7C1151.9,425.2 1165.7,425.2 1174.0,424.7C1182.3,424.2 1185.1,423.3 1190.6,422.7C1196.1,422.1 1201.7,421.2 1207.2,421.0C1212.7,420.8 1218.7,420.9 1223.7,421.4C1228.7,421.9 1232.8,422.5 1237.0,424.0C1241.2,425.5 1244.7,428.8 1248.6,430.2C1252.5,431.6 1256.3,432.7 1260.2,432.7C1264.1,432.7 1268.2,431.9 1271.8,430.2C1275.4,428.5 1277.9,426.7 1281.8,422.7C1285.7,418.7 1290.8,411.1 1295.0,406.1C1299.2,401.1 1303.5,396.0 1306.7,392.9C1309.9,389.8 1311.0,388.5 1314.0,387.3C1317.0,386.1 1321.3,386.6 1325.0,385.8C1328.7,385.0 1332.5,384.3 1336.0,382.5C1339.5,380.7 1342.7,378.8 1346.0,375.2C1349.3,371.6 1352.9,366.8 1355.9,361.1C1358.9,355.4 1361.4,348.1 1364.2,341.2C1367.0,334.3 1369.9,325.4 1372.5,319.6C1375.1,313.8 1377.5,309.4 1380.0,306.4C1382.5,303.4 1385.0,301.8 1387.5,301.7C1390.0,301.6 1392.4,302.8 1394.9,305.5C1397.4,308.2 1399.8,312.3 1402.4,318.0C1405.0,323.7 1407.9,332.0 1410.7,339.5C1413.5,347.0 1416.2,355.6 1419.0,362.8C1421.8,370.0 1424.5,377.2 1427.3,382.7C1430.1,388.2 1432.8,392.4 1435.6,396.0C1438.4,399.6 1441.1,402.0 1443.9,404.2C1446.7,406.4 1449.7,408.2 1452.2,409.2C1454.7,410.2 1456.6,410.1 1458.8,410.0C1461.0,409.9 1462.2,408.5 1465.5,408.4C1468.8,408.3 1473.2,408.9 1478.7,409.2C1484.2,409.5 1492.5,409.4 1498.6,410.0C1504.7,410.6 1508.3,411.9 1515.2,412.5C1522.1,413.1 1531.8,412.7 1540.1,413.4C1548.4,414.1 1555.7,415.2 1565.0,416.5C1574.3,417.8 1583.0,420.0 1596.0,421.3C1609.0,422.6 1626.9,423.4 1643.0,424.3C1659.1,425.2 1681.1,426.0 1692.7,426.8C1704.3,427.6 1707.6,428.2 1712.6,429.3C1717.6,430.4 1719.0,431.6 1722.6,433.5C1726.2,435.4 1729.5,438.0 1734.2,440.9C1738.9,443.8 1745.3,448.0 1750.8,450.9C1756.3,453.8 1761.9,456.5 1767.4,458.4C1772.9,460.3 1778.5,461.7 1784.0,462.5C1789.5,463.3 1796.4,463.7 1800.6,463.3C1804.8,462.9 1805.9,461.8 1808.9,460.0C1811.9,458.2 1815.8,455.4 1818.8,452.5C1821.8,449.6 1824.9,446.5 1827.1,442.6C1829.3,438.7 1830.7,434.3 1832.1,429.3C1833.5,424.3 1834.2,418.8 1835.4,412.7C1836.7,406.6 1838.1,398.9 1839.6,392.8C1841.1,386.7 1842.7,380.1 1844.5,376.2C1846.3,372.3 1848.4,369.9 1850.3,369.6C1852.2,369.3 1854.2,371.8 1856.1,374.6C1858.0,377.4 1859.8,383.0 1861.9,386.2C1864.0,389.4 1865.0,391.5 1868.6,393.6C1872.2,395.7 1876.9,396.8 1883.5,398.6C1890.1,400.4 1900.1,402.7 1908.4,404.4C1916.7,406.1 1927.8,407.7 1933.3,408.6C1938.8,409.5 1936.5,408.9 1941.5,410.0C1946.5,411.1 1956.9,413.6 1963.0,415.0C1969.1,416.4 1973.6,417.8 1978.0,418.3C1982.4,418.9 1985.7,418.9 1989.6,418.3C1993.5,417.8 1997.3,416.8 2001.2,415.0C2005.1,413.2 2009.2,409.9 2012.8,407.5C2016.4,405.1 2019.5,402.5 2022.8,400.9C2026.1,399.3 2029.7,398.5 2032.7,397.9C2035.7,397.3 2038.0,397.0 2041.0,397.2C2044.0,397.4 2046.8,397.9 2051.0,399.2C2055.2,400.5 2060.7,403.2 2065.9,405.0C2071.2,406.8 2075.6,408.5 2082.5,410.0C2089.4,411.5 2097.7,413.1 2107.4,414.2C2117.1,415.3 2128.2,416.0 2140.6,416.6C2153.0,417.2 2155.4,417.5 2182.0,417.8C2208.6,418.1 2265.5,418.2 2300.0,418.3C2334.5,418.4 2374.2,418.5 2389.0,418.5" fill="none" stroke="#000" stroke-width="5.9" stroke-linejoin="round" stroke-linecap="round"/>
<rect x="961.5" y="130.7" width="1429.4" height="1152.1499999999999" fill="none" stroke="#000" stroke-width="5.5" stroke-linejoin="round"/>
<path d="M1051.0,1282.85v-22.5M1185.0,1282.85v-11M1319.0,1282.85v-22.5M1453.0,1282.85v-11M1587.0,1282.85v-22.5M1721.0,1282.85v-11M1855.0,1282.85v-22.5M1989.0,1282.85v-11M2123.0,1282.85v-22.5M2257.0,1282.85v-11M961.5,226.7h21.7M961.5,322.7h10.5M961.5,418.7h21.7M961.5,514.7h10.5M961.5,610.7h21.7M961.5,706.7h10.5M961.5,802.7h21.7M961.5,898.7h10.5M961.5,994.7h21.7M961.5,1090.7h10.5M961.5,1186.7h21.7" fill="none" stroke="#000" stroke-width="5.6" stroke-linecap="round"/>
<text class="sa" x="1051.0" y="1345.8" font-size="49.5" text-anchor="middle">630</text>
<text class="sa" x="1319.0" y="1345.8" font-size="49.5" text-anchor="middle">660</text>
<text class="sa" x="1587.0" y="1345.8" font-size="49.5" text-anchor="middle">690</text>
<text class="sa" x="1855.0" y="1345.8" font-size="49.5" text-anchor="middle">720</text>
<text class="sa" x="2123.0" y="1345.8" font-size="49.5" text-anchor="middle">750</text>
<text class="sa" x="2391.0" y="1345.8" font-size="49.5" text-anchor="middle">780</text>
<text class="sa" x="937.5" y="242.6" font-size="49.5" text-anchor="end">2</text>
<text class="sa" x="937.5" y="434.6" font-size="49.5" text-anchor="end">0</text>
<text class="sa" x="937.5" y="626.6" font-size="49.5" text-anchor="end">-2</text>
<text class="sa" x="937.5" y="818.6" font-size="49.5" text-anchor="end">-4</text>
<text class="sa" x="937.5" y="1010.6" font-size="49.5" text-anchor="end">-6</text>
<text class="sa" x="937.5" y="1202.6" font-size="49.5" text-anchor="end">-8</text>
<text class="se" x="1710.5" y="1496.7" font-size="108.8" text-anchor="middle">Wavelength λ (nm)</text>
<text class="se" transform="translate(865.5,749.5) rotate(-90)" font-size="109.15" text-anchor="middle">Circular Dichroism (%)</text>
<text class="se" transform="translate(1270.5,1170.9) scale(1,1.008)" font-size="109.3">mode1</text>
<text class="se" transform="translate(1968,530.4) scale(1,1.009)" font-size="109.3">mode2</text>
<line x1="1862.6" y1="968.4" x2="2001.6" y2="968.4" stroke="#4a6db4" stroke-width="5.8" stroke-linecap="round"/>
<text class="se" x="2032.6" y="994.5" font-size="73.4">a= −20 nm</text>
<line x1="1862.6" y1="1087.9" x2="2001.6" y2="1087.9" stroke="#dc1c24" stroke-width="5.8" stroke-linecap="round"/>
<text class="se" x="2032.6" y="1112.2" font-size="73.4">a= 0 nm</text>
<line x1="1862.6" y1="1210.2" x2="2001.6" y2="1210.2" stroke="#000" stroke-width="5.8" stroke-linecap="round"/>
<text class="se" x="2032.6" y="1232.7" font-size="73.4">a= 20 nm</text>
</g>
<text class="se" x="25.6" y="107.6" font-size="110">(a)</text>
<text class="se" x="753.9" y="108.3" font-size="110">(b)</text>
</svg></body></html>
